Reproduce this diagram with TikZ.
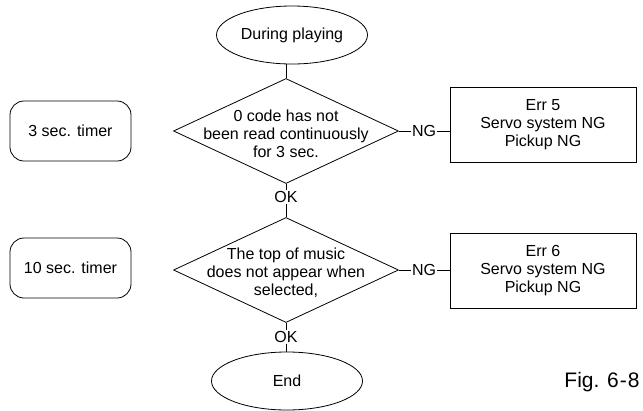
\documentclass[tikz,border=0pt]{standalone}
\usepackage{fontspec}
\setmainfont{Liberation Sans}
\usetikzlibrary{shapes.geometric}

\begin{document}
\begin{tikzpicture}[x=1pt, y=-1pt,
  every node/.style={font=\fontsize{16}{18}\selectfont},
  terminal/.style={ellipse, draw, line width=0.8pt, minimum width=151pt, minimum height=58pt, inner sep=0pt},
  check/.style={diamond, draw, line width=0.8pt, minimum width=225pt, minimum height=105pt, inner sep=0pt},
  timer/.style={rectangle, draw, rounded corners=14pt, line width=0.8pt, minimum width=121pt, minimum height=60pt},
  errbox/.style={rectangle, draw, line width=0.8pt, minimum width=186pt, minimum height=75pt, align=center},
  tag/.style={inner sep=1pt},
  flow/.style={line width=0.7pt}
]
\def\midx{286}
\def\rowa{131}
\def\rowb{270}
\def\errx{543}
\fill[white] (0,0) rectangle (643,410);

\node[terminal] (start) at (292,35) {During playing};
\node[check] (d1) at (\midx,\rowa) {};
\node[align=center] (d1text) at (\midx,\rowa+3) {0 code has not\\been read continuously\\for 3 sec.};
\node[tag] (ok1) at (\midx,197) {OK};
\node[check] (d2) at (\midx,\rowb) {};
\node[align=center] (d2text) at (\midx,\rowb+3) {The top of music\\does not appear when\\selected,};
\node[tag] (ok2) at (\midx,337) {OK};
\node[terminal] (end) at (\midx+1,381) {End};

\node[timer] (t1) at (70.5,\rowa) {3 sec. timer};
\node[timer] (t2) at (70.5,\rowb-2) {10 sec. timer};

\node[errbox] (e1) at (\errx,124.5) {Err 5\\Servo system NG\\Pickup NG};
\node[errbox] (e2) at (\errx,\rowb+0.5) {Err 6\\Servo system NG\\Pickup NG};
\node[tag] (ng1) at (424,\rowa) {NG};
\node[tag] (ng2) at (424,\rowb) {NG};

\node[font=\fontsize{21}{24}\selectfont] (fig) at (602,382) {Fig. 6\kern1pt-\kern1pt8};

\draw[flow] (d1.north) -- (d1.north |- start.south);
\draw[flow] (d1.south) -- (ok1);
\draw[flow] (ok1) -- (d2.north);
\draw[flow] (d2.south) -- (ok2);
\draw[flow] (ok2) -- (ok2 |- end.north);
\draw[flow] (d1.east) -- (ng1) -- (e1.west |- ng1);
\draw[flow] (d2.east) -- (ng2) -- (e2.west |- ng2);
\end{tikzpicture}
\end{document}
